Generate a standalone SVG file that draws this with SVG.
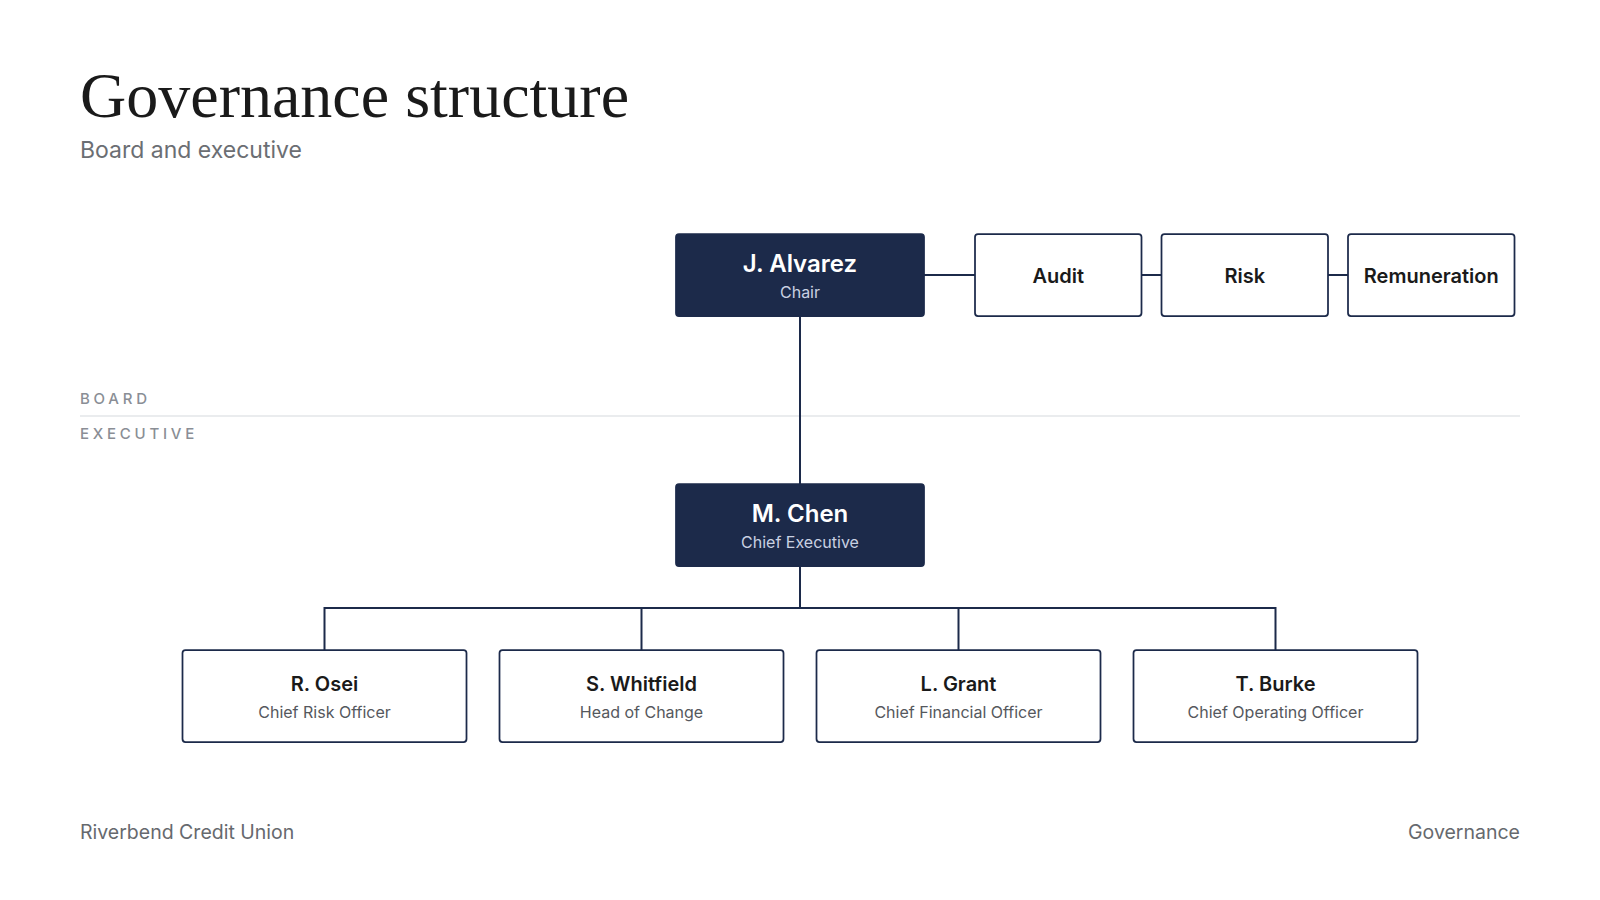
<svg xmlns="http://www.w3.org/2000/svg" width="1600" height="900" viewBox="0 0 1600 900">
  <style>
    .title { font-family: "Liberation Serif", "Times New Roman", serif; font-size: 64px; fill: #1a1a1a; }
    .subtitle { font-family: Inter, "Liberation Sans", sans-serif; font-size: 23px; fill: #6b6e73; }
    .section { font-family: Inter, "Liberation Sans", sans-serif; font-size: 15px; font-weight: 500; fill: #8a8e95; letter-spacing: 3.75px; }
    .footer { font-family: Inter, "Liberation Sans", sans-serif; font-size: 19.5px; fill: #66696e; }
    .dark rect { fill: #1c2a4a; stroke: #1c2a4a; stroke-width: 1.75; }
    .light rect { fill: #ffffff; stroke: #1c2a4a; stroke-width: 1.75; }
    .name { font-family: Inter, "Liberation Sans", sans-serif; font-weight: 600; text-anchor: middle; }
    .dark .name { font-size: 24px; fill: #ffffff; }
    .dark .role { fill: #c9d1e2; }
    .light .name { font-size: 20px; fill: #1a1a1a; }
    .role { font-family: Inter, "Liberation Sans", sans-serif; font-size: 16px; text-anchor: middle; fill: #55585d; }
    .committee text { font-family: Inter, "Liberation Sans", sans-serif; font-weight: 600; font-size: 20px; fill: #1a1a1a; text-anchor: middle; }
    .committee rect { fill: #ffffff; stroke: #1c2a4a; stroke-width: 1.75; }
    #connectors path { fill: none; stroke: #1c2a4a; stroke-width: 2; }
  </style>
  <rect x="0" y="0" width="1600" height="900" fill="#ffffff"/>

  <text class="title" x="80" y="117">Governance structure</text>
  <text class="subtitle" x="80" y="158">Board and executive</text>

  <line x1="80" y1="416" x2="1520" y2="416" stroke="#d6d9de" stroke-width="1.2"/>
  <text class="section" x="80" y="404">BOARD</text>
  <text class="section" x="80" y="439">EXECUTIVE</text>

  <g id="connectors">
    <path d="M924 275 H975"/>
    <path d="M1141.5 275 H1161.5"/>
    <path d="M1328 275 H1348"/>
    <path d="M800 316 V484"/>
    <path d="M800 566 V608"/>
    <path d="M324.5 650 V608 H1275.5 V650"/>
    <path d="M641.5 608 V650"/>
    <path d="M958.5 608 V650"/>
  </g>

  <g id="node-alvarez" class="dark">
    <rect x="676" y="234" width="248" height="82" rx="3"/>
    <text class="name" x="800" y="271.5">J. Alvarez</text>
    <text class="role" x="800" y="297.5">Chair</text>
  </g>

  <g id="node-audit" class="committee">
    <rect x="975" y="234" width="166.5" height="82" rx="3"/>
    <text x="1058.25" y="282.5">Audit</text>
  </g>
  <g id="node-risk" class="committee">
    <rect x="1161.5" y="234" width="166.5" height="82" rx="3"/>
    <text x="1244.75" y="282.5">Risk</text>
  </g>
  <g id="node-remuneration" class="committee">
    <rect x="1348" y="234" width="166.5" height="82" rx="3"/>
    <text x="1431.25" y="282.5">Remuneration</text>
  </g>

  <g id="node-chen" class="dark">
    <rect x="676" y="484" width="248" height="82" rx="3"/>
    <text class="name" x="800" y="521.5">M. Chen</text>
    <text class="role" x="800" y="547.5">Chief Executive</text>
  </g>

  <g id="node-osei" class="light">
    <rect x="182.5" y="650" width="284" height="92" rx="3"/>
    <text class="name" x="324.5" y="690.5">R. Osei</text>
    <text class="role" x="324.5" y="717.5">Chief Risk Officer</text>
  </g>
  <g id="node-whitfield" class="light">
    <rect x="499.5" y="650" width="284" height="92" rx="3"/>
    <text class="name" x="641.5" y="690.5">S. Whitfield</text>
    <text class="role" x="641.5" y="717.5">Head of Change</text>
  </g>
  <g id="node-grant" class="light">
    <rect x="816.5" y="650" width="284" height="92" rx="3"/>
    <text class="name" x="958.5" y="690.5">L. Grant</text>
    <text class="role" x="958.5" y="717.5">Chief Financial Officer</text>
  </g>
  <g id="node-burke" class="light">
    <rect x="1133.5" y="650" width="284" height="92" rx="3"/>
    <text class="name" x="1275.5" y="690.5">T. Burke</text>
    <text class="role" x="1275.5" y="717.5">Chief Operating Officer</text>
  </g>

  <text class="footer" x="80" y="839">Riverbend Credit Union</text>
  <text class="footer" x="1520" y="839" text-anchor="end">Governance</text>
</svg>
